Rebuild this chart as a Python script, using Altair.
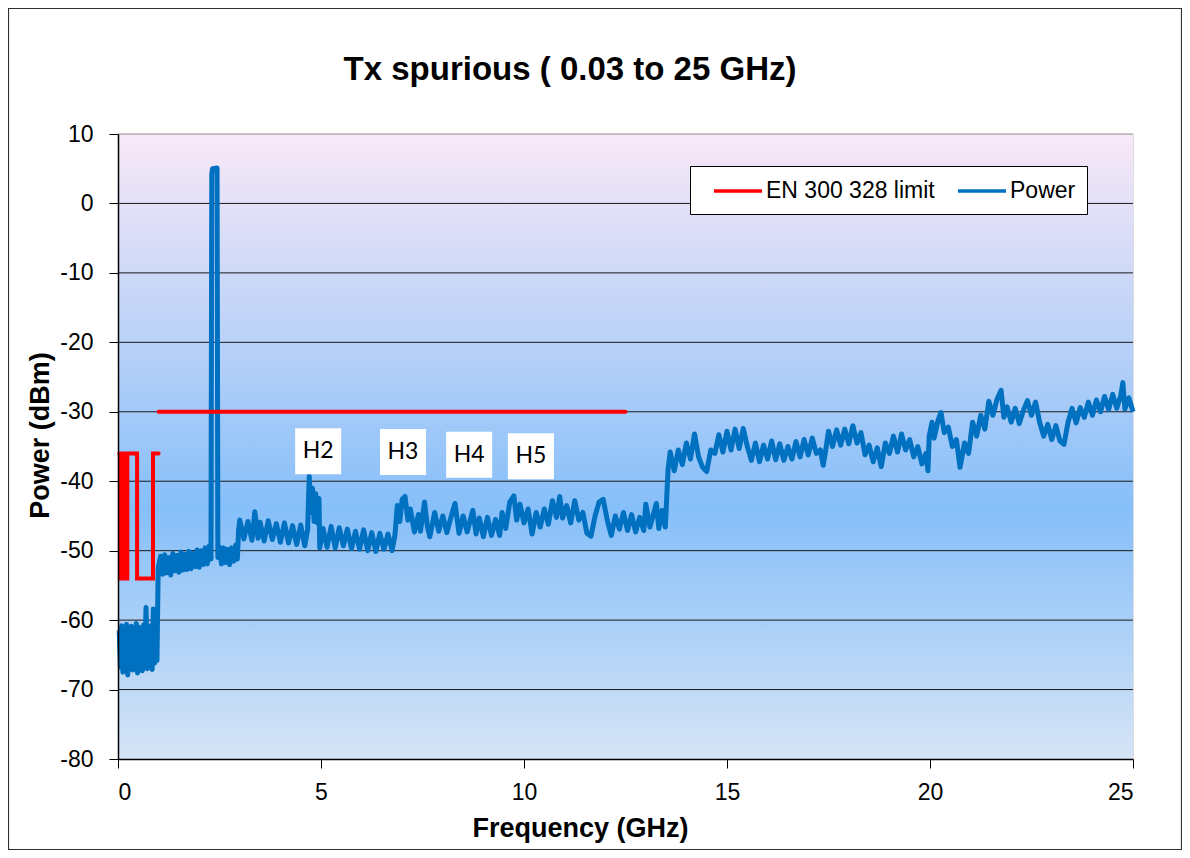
import altair as alt
import pandas as pd

# ---------------- data ----------------
freq_ghz = [
    0.03, 0.06, 0.09, 0.12, 0.15, 0.18, 0.21, 0.24, 0.27, 0.30, 0.33, 0.36, 0.39, 0.42, 0.45, 0.48,
    0.51, 0.54, 0.57, 0.60, 0.63, 0.66, 0.69, 0.72, 0.75, 0.78, 0.81, 0.84, 0.87, 0.90, 0.93, 0.96,
    0.99, 1.05, 1.10, 1.15, 1.20, 1.25, 1.30, 1.35, 1.40, 1.45, 1.50, 1.55, 1.60, 1.65, 1.70, 1.75,
    1.80, 1.85, 1.90, 1.95, 2.00, 2.05, 2.10, 2.15, 2.20, 2.25, 2.29,
    2.31, 2.33, 2.44, 2.46,
    2.50, 2.55, 2.60, 2.65, 2.70, 2.75, 2.80, 2.85, 2.90, 2.94, 2.97,
    3.00, 3.10, 3.20, 3.30, 3.37, 3.45, 3.50, 3.60, 3.70, 3.80, 3.90, 4.00, 4.10, 4.20, 4.30, 4.40,
    4.50, 4.60,
    4.67, 4.71, 4.75, 4.79, 4.83, 4.87, 4.91, 4.95, 4.97,
    5.05, 5.15, 5.25, 5.35, 5.45, 5.55, 5.65, 5.75, 5.85, 5.95, 6.05, 6.15, 6.25, 6.35, 6.45, 6.55,
    6.65, 6.75, 6.82, 6.88, 6.94,
    7.00, 7.07, 7.14, 7.20, 7.30, 7.40, 7.45, 7.55, 7.62, 7.68, 7.80, 7.90, 8.00, 8.10, 8.20, 8.30,
    8.40, 8.50, 8.60, 8.74, 8.82, 8.90, 9.00, 9.10, 9.20, 9.30, 9.40, 9.46, 9.55, 9.65, 9.75, 9.82,
    9.90, 10.00, 10.10, 10.20, 10.30, 10.40, 10.50, 10.60, 10.70, 10.80, 10.88, 10.95, 11.05, 11.15,
    11.25, 11.35, 11.45, 11.55, 11.65, 11.75, 11.85, 11.95, 12.05, 12.15, 12.25, 12.35, 12.45, 12.55,
    12.65, 12.75, 12.85, 12.95, 13.00, 13.10, 13.20, 13.26, 13.32, 13.40, 13.48,
    13.55, 13.60, 13.70, 13.80, 13.90, 14.00, 14.10, 14.20, 14.30, 14.40, 14.50, 14.60, 14.70, 14.80,
    14.90, 15.00, 15.10, 15.20, 15.30, 15.40, 15.50, 15.60, 15.70, 15.80, 15.90, 16.00, 16.10, 16.20,
    16.30, 16.40, 16.50, 16.60, 16.70, 16.80, 16.90, 17.00, 17.10, 17.20, 17.30, 17.37, 17.45, 17.50,
    17.60, 17.70, 17.80, 17.90, 18.00, 18.10, 18.20, 18.30, 18.40, 18.50, 18.60, 18.70, 18.80, 18.90,
    19.00, 19.10, 19.20, 19.30, 19.40, 19.50, 19.60, 19.70, 19.80, 19.90, 19.95, 19.98, 20.05, 20.10,
    20.20, 20.27, 20.35, 20.45, 20.55, 20.65, 20.74, 20.85, 20.95, 21.05, 21.15, 21.25, 21.35, 21.45,
    21.55, 21.65, 21.75, 21.82, 21.90, 22.00, 22.10, 22.20, 22.30, 22.40, 22.50, 22.60, 22.70, 22.80,
    22.90, 23.00, 23.10, 23.20, 23.30, 23.40, 23.50, 23.60, 23.70, 23.80, 23.90, 24.00, 24.10, 24.20,
    24.30, 24.40, 24.50, 24.60, 24.70, 24.75, 24.80, 24.90, 25.00,
]
power_dbm = [
    -61.5, -66.8, -60.8, -67.5, -62.0, -66.2, -60.6, -67.9, -61.2, -66.5, -60.9, -67.2, -61.8, -66.0, -60.5, -67.6,
    -61.0, -66.8, -61.5, -67.3, -60.7, -66.4, -58.2, -67.0, -61.3, -66.6, -60.8, -67.1, -58.4, -66.2, -60.9, -65.8,
    -52.5, -50.8, -53.4, -50.6, -53.2, -51.0, -53.5, -50.4, -52.9, -50.7, -53.1, -50.2, -52.8, -50.5, -52.7, -50.1,
    -52.6, -50.4, -52.3, -49.9, -52.4, -50.0, -52.0, -49.6, -51.9, -49.3, -51.2,
    4.3, 5.0, 5.1, -51.0,
    -49.5, -51.9, -49.6, -51.7, -49.8, -52.0, -49.6, -51.5, -49.2, -51.2, -47.0,
    -45.6, -48.3, -45.8, -48.5, -44.4, -48.2, -45.9, -48.6, -45.7, -48.4, -46.1, -48.8, -46.0, -48.9, -46.4, -49.1,
    -46.3, -49.3,
    -47.0, -39.3, -44.5, -41.0, -45.8, -41.8, -46.0, -42.5, -49.6,
    -46.8, -49.5, -46.5, -49.6, -46.7, -49.3, -46.9, -49.7, -47.2, -49.8, -47.0, -50.0, -47.4, -50.1, -47.5, -49.8,
    -47.6, -50.0, -47.8, -43.5, -45.8,
    -42.6, -42.2, -45.6, -44.0, -47.3, -44.8, -47.2, -43.0, -46.5, -48.0, -44.5, -47.2, -45.0, -47.4, -45.2, -43.2,
    -47.5, -45.0, -47.3, -44.2, -47.6, -45.3, -48.0, -45.2, -47.8, -45.5, -47.8, -44.5, -46.8, -43.0, -42.1, -45.6,
    -43.3, -46.0, -44.0, -47.6, -44.5, -46.6, -44.0, -46.2, -42.8, -45.2, -42.2, -45.3, -43.5, -46.0,
    -42.8, -45.6, -44.5, -47.5, -47.9, -45.0, -43.0, -42.6, -45.6, -47.8, -45.0, -46.9, -44.5, -47.1,
    -44.8, -47.3, -45.2, -47.1, -43.3, -46.6, -44.5, -43.2, -46.8, -44.2, -46.6,
    -38.2, -35.8, -38.5, -35.5, -37.6, -34.5, -36.8, -33.2, -36.5, -38.0, -38.6, -35.5, -36.0, -33.3,
    -35.8, -32.8, -35.5, -32.5, -35.3, -32.4, -35.0, -37.0, -34.5, -37.2, -34.8, -36.8, -34.2, -36.9,
    -34.6, -37.0, -35.0, -36.8, -34.3, -36.5, -34.0, -36.2, -33.8, -36.0, -35.5, -37.7, -34.8, -32.8,
    -35.0, -32.6, -34.8, -32.5, -34.6, -32.0, -34.5, -33.0, -36.2, -34.8, -37.2, -35.2, -37.9, -34.5,
    -36.0, -33.5, -35.8, -33.2, -35.5, -34.0, -36.5, -35.0, -37.5, -36.0, -38.5, -33.5, -31.5, -33.8,
    -31.2, -30.1, -33.0, -32.2, -35.0, -34.0, -38.0, -34.5, -36.0, -31.5, -33.5, -30.5, -32.5, -28.5,
    -30.5, -28.2, -26.9, -30.8, -29.3, -31.5, -29.5, -31.7, -29.8, -28.4, -30.5, -28.6, -31.5, -33.5,
    -31.8, -34.0, -32.0, -34.2, -34.7, -31.5, -29.5, -31.6, -29.4, -30.8, -28.6, -30.5, -28.3, -30.0,
    -27.8, -29.7, -27.5, -29.5, -27.6, -25.8, -29.6, -28.0, -30.0,
]

# EN 300 328 spurious limit (two separate traces in the original)
limit_low_freq = [0.03, 0.047, 0.047, 0.074, 0.074, 0.0875, 0.0875, 0.118, 0.118, 0.174, 0.174, 0.23,
                  0.23, 0.47, 0.47, 0.862, 0.862, 1.0]
limit_low_dbm = [-36, -36, -54, -54, -36, -36, -54, -54, -36, -36, -54, -54, -36, -36, -54, -54, -36, -36]
limit_high_freq = [1.0, 12.5]
limit_high_dbm = [-30, -30]

harm_labels = ["H2", "H3", "H4", "H5"]
harm_freq = [4.93, 7.02, 8.65, 10.17]
harm_dbm = [-35.7, -35.8, -36.2, -36.4]

x_ticks = [0, 5, 10, 15, 20, 25]
y_ticks = [-80, -70, -60, -50, -40, -30, -20, -10, 0, 10]

series_names = ["EN 300 328 limit", "Power"]
series_colors = ["#ff0000", "#0070c0"]

chart_title = "Tx spurious ( 0.03 to 25 GHz)"

# ---------------- tables ----------------
power_df = pd.DataFrame({"freq": freq_ghz, "dbm": power_dbm, "series": "Power", "order": range(len(freq_ghz))})
limit_df = pd.concat([
    pd.DataFrame({"freq": limit_low_freq, "dbm": limit_low_dbm, "seg": "low",
                  "order": range(len(limit_low_freq))}),
    pd.DataFrame({"freq": limit_high_freq, "dbm": limit_high_dbm, "seg": "high",
                  "order": range(len(limit_high_freq))}),
])
limit_df["series"] = "EN 300 328 limit"
harm_df = pd.DataFrame({"label": harm_labels, "freq": harm_freq, "dbm": harm_dbm})
grid_df = pd.DataFrame({"v": y_ticks})

W, H = 1015, 625
FONT = "Liberation Sans"

x_scale = alt.Scale(domain=[0, 25], nice=False)
y_scale = alt.Scale(domain=[-80, 10], nice=False)
color_scale = alt.Scale(domain=series_names, range=series_colors)

x_axis = alt.Axis(values=x_ticks, title="Frequency (GHz)", grid=False, zindex=1,
                  tickSize=9, tickColor="black", domainColor="black", domainWidth=1.5,
                  labelFontSize=23, labelFont=FONT, labelColor="black", labelPadding=13,
                  labelExpr="datum.value + ''",
                  titleFontSize=27, titleFont=FONT, titleFontWeight="bold", titleColor="black",
                  titleX=462, titleY=77, titleBaseline="alphabetic", titleAnchor="start", titleAlign="center")
y_axis = alt.Axis(values=y_ticks, title="Power (dBm)", grid=False, zindex=1,
                  tickSize=9, tickColor="black", domainColor="black", domainWidth=1.5,
                  labelFontSize=23, labelFont=FONT, labelColor="black", labelPadding=16,
                  labelExpr="datum.value + ''",
                  titleFontSize=27, titleFont=FONT, titleFontWeight="bold", titleColor="black",
                  titleX=-70, titleY=301, titleAngle=-90, titleAlign="center", titleBaseline="alphabetic")

background = alt.Chart(alt.Data(values=[{}])).mark_rect(
    fill=alt.LinearGradient(
        gradient="linear",
        stops=[alt.GradientStop(offset=0, color="#f9e8f7"),
               alt.GradientStop(offset=0.6, color="#86bff9"),
               alt.GradientStop(offset=1, color="#d6e4f6")],
        x1=0, x2=0, y1=0, y2=1),
).encode(x=alt.value(0), x2=alt.value(W), y=alt.value(0), y2=alt.value(H))

gridlines = alt.Chart(grid_df).transform_filter("datum.v > -80").mark_rule(strokeWidth=1).encode(
    y=alt.Y("v:Q", scale=y_scale),
    color=alt.condition("datum.v == 10", alt.value("#8c8c8c"), alt.value("#1a1a1a")),
)

border = alt.Chart(alt.Data(values=[{}])).mark_rect(
    fillOpacity=0, stroke="#303030", strokeWidth=1.2
).encode(x=alt.value(-109.5), x2=alt.value(1063.5), y=alt.value(-125.5), y2=alt.value(715.5))

title_text = alt.Chart(alt.Data(values=[{"t": chart_title}])).mark_text(
    font=FONT, fontSize=33, fontWeight="bold", color="black", align="center", baseline="alphabetic"
).encode(x=alt.value(452), y=alt.value(-54), text="t:N")

legend = alt.Legend(orient="none", legendX=572, legendY=32, direction="horizontal", title=None,
                    symbolType="M-2,0H2", symbolSize=576, symbolStrokeWidth=3.5,
                    labelFontSize=23, labelFont=FONT, labelColor="black", labelLimit=0,
                    fillColor="white", strokeColor="black", padding=11, columnPadding=10,
                    labelOffset=14, symbolOffset=23)

power = alt.Chart(power_df).mark_line(strokeWidth=5, strokeJoin="round").encode(
    x=alt.X("freq:Q", scale=x_scale, axis=x_axis),
    y=alt.Y("dbm:Q", scale=y_scale, axis=y_axis),
    color=alt.Color("series:N", scale=color_scale, legend=legend),
    order="order:Q",
)

limit = alt.Chart(limit_df).mark_line(strokeWidth=4, strokeCap="round").encode(
    x=alt.X("freq:Q", scale=x_scale),
    y=alt.Y("dbm:Q", scale=y_scale),
    color=alt.Color("series:N", scale=color_scale, legend=legend),
    detail="seg:N",
    order="order:Q",
)

boxes = alt.Chart(harm_df).mark_square(size=2116, fill="white", opacity=1, strokeWidth=0).encode(
    x=alt.X("freq:Q", scale=x_scale),
    y=alt.Y("dbm:Q", scale=y_scale),
)
texts = alt.Chart(harm_df).mark_text(font="Lato", fontSize=23, color="black", baseline="middle",
                                     align="center").encode(
    x=alt.X("freq:Q", scale=x_scale),
    y=alt.Y("dbm:Q", scale=y_scale),
    text="label:N",
)

chart = alt.layer(background, gridlines, border, title_text, power, limit, boxes, texts).properties(
    width=W, height=H,
    autosize=alt.AutoSizeParams(type="none"),
    padding={"left": 110, "top": 126, "right": 49, "bottom": 91},
).configure_view(stroke="#8c8c8c", strokeWidth=1.2).configure(background="white")

chart.save("out.html", embed_options={"renderer": "svg", "actions": False})
